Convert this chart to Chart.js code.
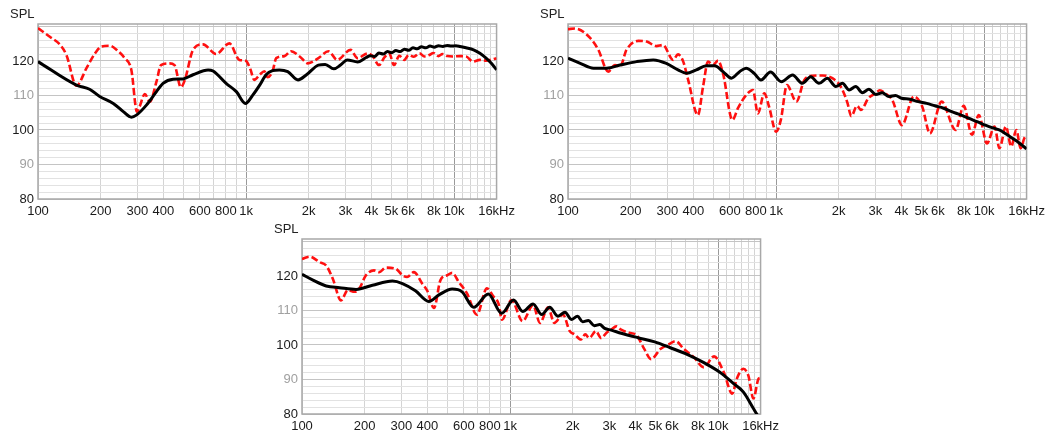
<!DOCTYPE html>
<html>
<head>
<meta charset="utf-8">
<script src="https://cdn.jsdelivr.net/npm/chart.js@4.4.1/dist/chart.umd.min.js"></script>
<style>
  html, body { margin: 0; padding: 0; background: #fff; overflow: hidden; }
  body { width: 1046px; height: 435px; position: relative; }
  .panel { position: absolute; }
</style>
</head>
<body>
<div class="panel" style="left:0px;top:0px;"><canvas id="c1" width="520" height="225"></canvas></div>
<div class="panel" style="left:530px;top:0px;"><canvas id="c2" width="520" height="225"></canvas></div>
<div class="panel" style="left:264px;top:215px;"><canvas id="c3" width="520" height="225"></canvas></div>
<script>
// ---------- axis tick data ----------
const xGridValues = [100,200,300,400,500,600,700,800,900,1000,2000,3000,4000,5000,6000,7000,8000,9000,10000,11000,12000,13000,14000,15000,16000];
const xLabelValues = [100,200,300,400,600,800,1000,2000,3000,4000,5000,6000,8000,10000,16000];
const xLabelTexts  = ['100','200','300','400','600','800','1k','2k','3k','4k','5k','6k','8k','10k','16kHz'];
const yGridValues = [80,82,84,86,88,90,92,94,96,98,100,102,104,106,108,110,112,114,116,118,120,122,124,126,128,130];
const yLabelValues = [80,90,100,110,120];
const yLabelTexts  = ['80','90','100','110','120'];
const yLabelGrey   = [90,110];

// ---------- panel 1 (top-left) ----------
const p1BlackF = [100,153,177,198,230,257,281,297,332,371,399,446,498,556,657,694,802,898,993,1077,1163,1248,1341,1445,1586,1777,1952,2227,2402,2641,2845,3066,3437,3779,3950,4150,4350,4560,4780,5010,5250,5500,5770,6050,6340,6650,6970,7310,7660,8030,8420,8830,9260,9700,10200,10680,11400,12400,13300,14240,15100,16000];
const p1BlackV = [119.8,113.0,111.8,109.7,107.7,105.3,103.7,104.3,107.2,111.1,113.5,114.7,114.8,116.0,117.4,117.1,113.5,111.1,107.7,110.1,113.0,116.0,117.2,117.4,116.9,114.5,116.0,118.8,119.0,117.7,118.8,120.3,119.7,121.0,121.5,121.3,122.3,122.0,122.7,122.4,123.0,122.7,123.4,123.1,123.8,123.5,124.1,123.8,124.3,124.0,124.4,124.2,124.5,124.3,124.4,124.2,123.8,123.2,122.2,120.8,119.3,117.4];
const p1RedF = [100,114,128,137,153,171,188,202,221,243,261,281,299,308,326,345,371,390,428,453,486,508,556,621,719,831,929,1000,1050,1095,1163,1224,1270,1341,1396,1529,1646,1810,1984,2227,2490,2740,3180,3437,3838,4050,4356,4620,4876,5143,5450,5760,6050,6400,6820,7200,7600,7950,8400,8800,9300,9842,10680,11430,12320,13300,14300,15200,16000];
const p1RedV = [129.5,127.0,124.6,121.7,112.8,117.9,122.2,124.2,124.4,122.8,120.8,117.4,105.3,106.8,110.4,108.2,114.0,118.8,119.3,118.8,112.4,114.5,123.2,124.8,122.0,125.1,120.3,120.0,117.5,114.5,116.0,117.0,115.3,117.0,120.8,121.4,122.8,121.3,119.3,120.8,122.8,120.3,123.2,120.8,122.2,121.5,118.8,121.0,122.2,118.8,121.5,120.3,121.7,121.2,122.2,121.3,121.7,122.3,121.4,122.0,121.4,121.3,121.4,121.3,119.8,120.3,120.1,120.4,120.8];

// ---------- panel 2 (top-right) ----------
const p2BlackF = [100,114.5,132.6,153.6,178,214,257,297,338,371,414,462,507,556,610,668,718,785,846,940,1060,1201,1338,1468,1608,1763,1937,2085,2245,2415,2600,2796,3010,3241,3486,3750,4010,4400,4830,5300,5800,6390,6990,7700,8420,9250,10130,11000,11830,12700,13670,14700,15860,16000];
const p2BlackV = [120.8,119.3,117.9,117.9,118.8,119.8,120.3,119.3,117.4,116.4,117.4,118.6,118.6,116.9,115.0,116.9,117.9,116.4,114.5,116.8,114.0,115.9,113.5,115.4,113.5,115.0,112.6,113.5,111.6,112.6,110.8,111.8,110.3,110.8,109.7,110.0,109.2,108.9,108.2,107.7,107.0,106.3,105.3,104.4,103.4,102.4,101.4,100.6,100.0,98.9,97.6,96.3,94.7,94.5];
const p2RedF = [100,108,128,140,156,168,178,191,218,239,266,286,320,338,358,378,421,446,471,498,526,556,617,656,718,774,818,878,925,1001,1055,1128,1252,1368,1496,1670,1864,2045,2200,2300,2450,2560,2780,3010,3150,3350,3620,4030,4590,5040,5490,6250,7290,7980,8740,9430,10330,11220,11850,12730,13500,14280,14990,15600,16000];
const p2RedV = [129.2,129.4,126.6,123.2,116.9,118.8,118.4,123.2,125.8,125.6,124.3,124.6,120.3,121.9,119.8,114.5,104.3,112.6,119.8,118.8,120.1,116.4,102.9,106.3,110.1,111.6,104.8,110.6,106.8,99.5,103.0,113.0,108.2,114.5,115.7,115.8,115.0,112.6,108.0,104.0,107.0,105.8,109.2,110.6,111.5,110.6,108.7,101.4,109.7,106.8,99.0,108.2,100.0,107.0,98.6,104.3,96.1,101.0,94.7,101.0,95.2,100.0,94.7,97.6,98.5];

// ---------- panel 3 (bottom) ----------
const p3BlackF = [100,112.9,130.7,151.5,182,218,272,304,351,407,455,527,588,669,786,911,1039,1150,1290,1420,1550,1700,1837,1970,2110,2232,2380,2541,2700,2850,3070,3420,4120,4960,5890,7090,8540,10200,11870,13210,14780,15340,16000];
const p3BlackV = [120.5,118.8,117.1,116.6,116.1,117.3,118.5,117.8,115.7,112.6,114.5,116.2,115.4,110.9,114.8,109.2,113.0,109.7,111.9,108.8,110.9,108.3,109.5,107.4,108.3,106.7,107.1,105.6,105.9,104.8,104.3,103.4,102.1,100.9,99.2,97.3,94.9,92.1,88.8,86.4,81.6,80.0,78.5];
const p3RedF = [100,108.8,121.5,130.7,140.6,154,166,179,188.7,203,222,235,253,282,304,320,345,378,400,431,463,499,527,566,620,693,774,833,880,915,1015,1150,1290,1393,1525,1630,1797,1936,2040,2190,2300,2400,2585,2740,2903,3070,3240,3400,3750,4030,4420,4760,5280,5800,6250,6850,7660,8540,9560,10650,11690,12300,13220,13980,14780,15640,16000];
const p3RedV = [124.9,125.6,124.0,123.0,119.2,112.9,115.9,115.4,116.4,120.2,121.6,121.1,122.4,122.1,120.2,119.7,121.1,117.8,115.7,110.7,118.8,120.2,120.9,118.3,115.0,108.8,116.4,114.0,112.0,107.3,113.0,106.9,111.5,106.4,110.9,106.4,108.8,104.0,103.1,101.6,103.1,102.0,104.0,102.0,103.5,104.5,105.4,104.5,103.5,103.0,98.8,95.9,98.8,100.2,101.1,98.8,96.4,93.5,96.7,92.1,85.9,90.2,93.1,91.1,84.5,90.2,90.5];

// ---------- helpers ----------
function toXY(fs, vs) { return fs.map((f, i) => ({ x: f, y: vs[i] })); }

const FONT = "'Liberation Sans', Arial, sans-serif";

const framePlugin = {
  id: 'frame',
  beforeDatasetsDraw(chart) {
    const a = chart.chartArea, ctx = chart.ctx;
    ctx.save();
    ctx.strokeStyle = '#a8a8a8';
    ctx.lineWidth = 1.5;
    ctx.strokeRect(a.left, a.top, a.right - a.left, a.bottom - a.top);
    ctx.restore();
  },
  afterDraw(chart) {
    const a = chart.chartArea, ctx = chart.ctx;
    ctx.save();
    ctx.fillStyle = '#222';
    ctx.font = '13px ' + FONT;
    ctx.textAlign = 'left';
    ctx.textBaseline = 'alphabetic';
    ctx.fillText('SPL', a.left - 28, a.top - 6);
    ctx.restore();
  }
};

function makeChart(id, blackF, blackV, redF, redV) {
  return new Chart(document.getElementById(id), {
    type: 'scatter',
    data: {
      datasets: [
        {
          data: toXY(redF, redV),
          showLine: true,
          borderColor: '#ff1010',
          borderWidth: 2.6,
          borderDash: [7, 3],
          pointRadius: 0,
          cubicInterpolationMode: 'monotone',
          order: 2
        },
        {
          data: toXY(blackF, blackV),
          showLine: true,
          borderColor: '#000000',
          borderWidth: 3,
          pointRadius: 0,
          cubicInterpolationMode: 'monotone',
          order: 1
        }
      ]
    },
    options: {
      responsive: false,
      animation: false,
      events: [],
      layout: { padding: { top: 24, right: 23, left: 0, bottom: 0 } },
      plugins: { legend: { display: false }, tooltip: { enabled: false } },
      scales: {
        x: {
          type: 'logarithmic',
          min: 100,
          max: 16000,
          afterBuildTicks(scale) { scale.ticks = xGridValues.map(v => ({ value: v })); },
          afterFit(scale) { scale.height = 26; },
          border: { display: false },
          grid: {
            drawTicks: false,
            lineWidth: 1,
            color: (c) => (c.tick && (c.tick.value === 1000 || c.tick.value === 10000)) ? '#9a9a9a' : '#d4d4d4'
          },
          ticks: {
            autoSkip: false,
            maxRotation: 0,
            padding: 5,
            color: '#1a1a1a',
            font: { family: FONT, size: 13 },
            callback: (v) => { const i = xLabelValues.indexOf(v); return i >= 0 ? xLabelTexts[i] : ''; }
          }
        },
        y: {
          type: 'linear',
          min: 80,
          max: 130.7,
          afterBuildTicks(scale) { scale.ticks = yGridValues.map(v => ({ value: v })); },
          afterFit(scale) { scale.width = 38; },
          border: { display: false },
          grid: {
            drawTicks: false,
            lineWidth: 1,
            color: (c) => (c.tick && c.tick.value % 10 === 0) ? '#c4c4c4' : '#e2e2e2'
          },
          ticks: {
            autoSkip: false,
            padding: 4,
            font: { family: FONT, size: 13 },
            color: (c) => (c.tick && yLabelGrey.indexOf(c.tick.value) >= 0) ? '#a0a0a0' : '#1a1a1a',
            callback: (v) => { const i = yLabelValues.indexOf(v); return i >= 0 ? yLabelTexts[i] : ''; }
          }
        }
      }
    },
    plugins: [framePlugin]
  });
}

makeChart('c1', p1BlackF, p1BlackV, p1RedF, p1RedV);
makeChart('c2', p2BlackF, p2BlackV, p2RedF, p2RedV);
makeChart('c3', p3BlackF, p3BlackV, p3RedF, p3RedV);
</script>
</body>
</html>
